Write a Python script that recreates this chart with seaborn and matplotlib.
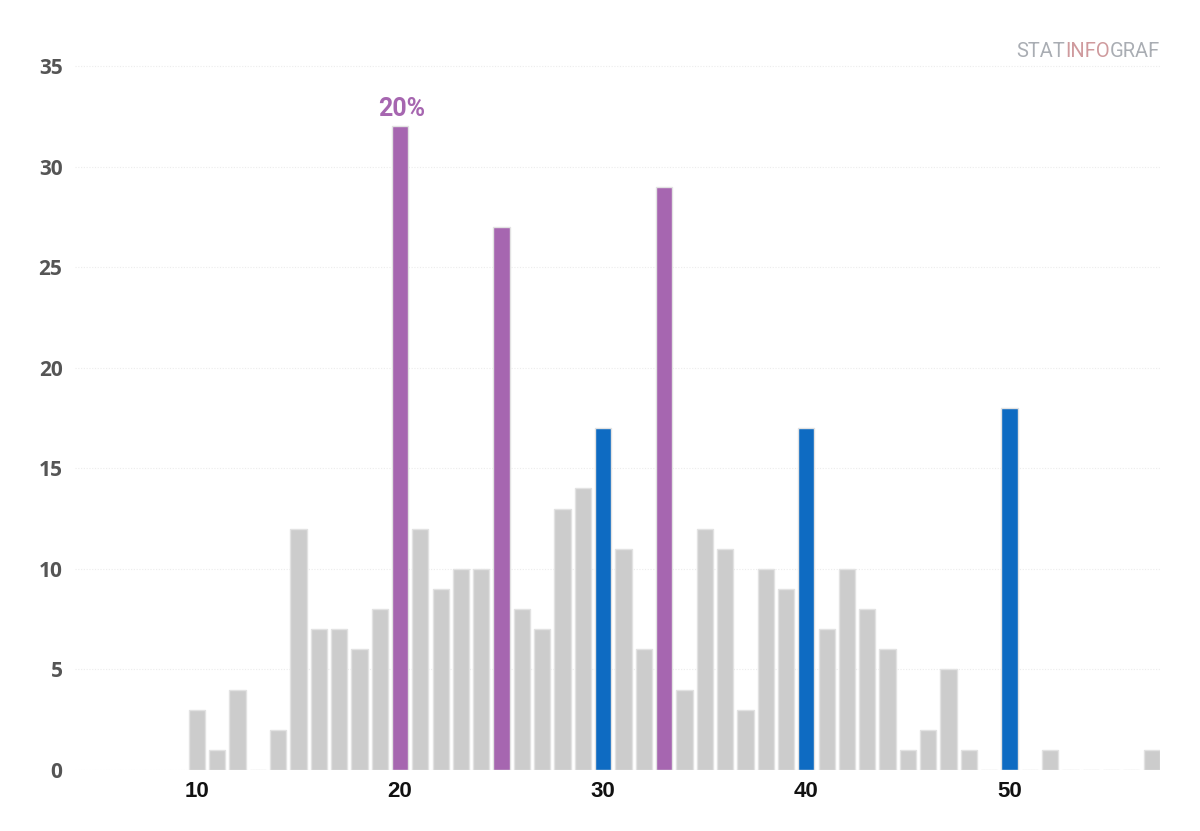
import numpy as np
import pandas as pd
import seaborn as sns
import matplotlib.pyplot as plt

ages = list(range(10, 58))
counts = [3, 1, 4, 0, 2, 12, 7, 7, 6, 8,
          32, 12, 9, 10, 10, 27, 8, 7, 13, 14,
          17, 11, 6, 29, 4, 12, 11, 3, 10, 9,
          17, 7, 10, 8, 6, 1, 2, 5, 1, 0,
          18, 0, 1, 0, 0, 0, 0, 1]
purple_ages = [20, 25, 33]
blue_ages = [30, 40, 50]
peak_label = "20%"

groups = ["purple" if a in purple_ages else "blue" if a in blue_ages else "grey" for a in ages]
df = pd.DataFrame({"age": ages, "count": counts, "group": groups})

palette = {"grey": "#cccccc", "purple": "#a666b0", "blue": "#0e6bc2"}

sns.set_style("white")
fig = plt.figure(figsize=(12, 8.31), dpi=100)
ax = fig.add_axes([0.0625, 0.0734, 0.904, 0.8484])

sns.barplot(data=df, x="age", y="count", hue="group", palette=palette,
            native_scale=True, dodge=False, width=0.8, legend=False, saturation=1,
            edgecolor="#e2e2e2", linewidth=1, ax=ax)

ax.set_xlim(4, 57.4)
ax.set_ylim(0, 35.05)
ax.set_yticks(range(0, 36, 5))
ax.set_xticks([10, 20, 30, 40, 50])
ax.grid(axis="y", color="#ececec", linestyle=(0, (1, 1.5)), linewidth=0.8)
ax.grid(axis="x", visible=False)
ax.set_axisbelow(True)
for s in ax.spines.values():
    s.set_visible(False)
ax.tick_params(axis="both", length=0)
ax.tick_params(axis="y", pad=9)
ax.tick_params(axis="x", pad=8)
ax.set_xlabel("")
ax.set_ylabel("")

for lab in ax.get_yticklabels():
    lab.set_fontfamily("Open Sans")
    lab.set_fontweight("bold")
    lab.set_fontsize(15)
    lab.set_color("#555555")
for lab in ax.get_xticklabels():
    lab.set_fontfamily("Liberation Sans")
    lab.set_fontweight("bold")
    lab.set_fontsize(16)
    lab.set_color("#111111")

peak = counts[ages.index(purple_ages[0])]
ax.annotate(peak_label, xy=(purple_ages[0], peak), xytext=(1, 4), textcoords="offset points",
            ha="center", va="bottom", fontsize=18, fontweight="bold",
            family="Roboto", color="#a666b0")

# watermark
t1 = fig.text(0.847, 0.932, "STAT", fontsize=14.5, family="Roboto",
              color="#a9adb3")
t2 = ax.annotate("INFO", xy=(1, 0), xycoords=t1, fontsize=14.5, family="Roboto",
                 color="#cf9a9d", va="bottom", ha="left")
t3 = ax.annotate("GRAF", xy=(1, 0), xycoords=t2, fontsize=14.5, family="Roboto",
                 color="#a9adb3", va="bottom", ha="left")

fig.savefig("out.png", dpi=100, facecolor="white")
